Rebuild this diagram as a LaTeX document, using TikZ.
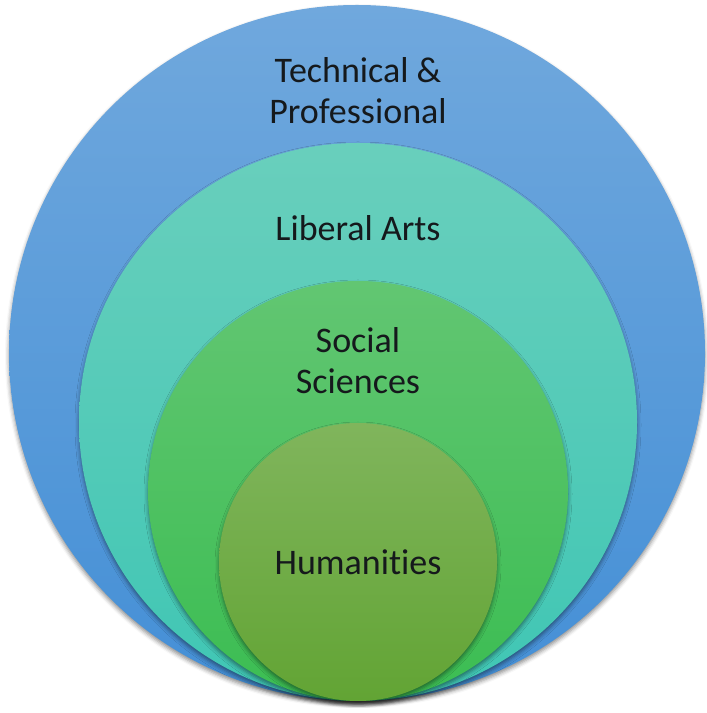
\documentclass[tikz,border=0pt]{standalone}
\usepackage{fontspec}
\setmainfont{Carlito}[Ligatures={NoCommon}]
\usetikzlibrary{shadows.blur}
\definecolor{techTop}{HTML}{70A8DD}
\definecolor{techBot}{HTML}{448FD6}
\definecolor{libTop}{HTML}{69CFBC}
\definecolor{libBot}{HTML}{3FC6B4}
\definecolor{socTop}{HTML}{62C672}
\definecolor{socBot}{HTML}{3BBD52}
\definecolor{humTop}{HTML}{80B55C}
\definecolor{humBot}{HTML}{62A434}
\definecolor{labelInk}{HTML}{15191C}
\tikzset{
  ring/.style={draw=none, blur shadow={shadow xshift=0bp, shadow yshift=-3bp, shadow blur radius=4bp, shadow opacity=45}},
  lbl/.style={font=\fontsize{36bp}{41bp}\selectfont, text=labelInk, inner sep=0pt, align=center}
}
\begin{document}
\begin{tikzpicture}[x=1bp,y=1bp]
\useasboundingbox (0,0) rectangle (707,713);
\path[ring, top color=techTop, bottom color=techBot] (357,360) circle (348);
\path[ring, top color=libTop, bottom color=libBot] (358,291) circle (279);
\path[ring, top color=socTop, bottom color=socBot] (358,222) circle (210);
\path[ring, top color=humTop, bottom color=humBot] (358,151) circle (139);
\node[lbl] (tech) at (358,622) {Technical \&\\Professional};
\node[lbl, anchor=base] (lib) at (358,472) {Liberal Arts};
\node[lbl] (soc) at (358,352) {Social\\Sciences};
\node[lbl, anchor=base] (hum) at (358,138) {Humanities};
\end{tikzpicture}
\end{document}
